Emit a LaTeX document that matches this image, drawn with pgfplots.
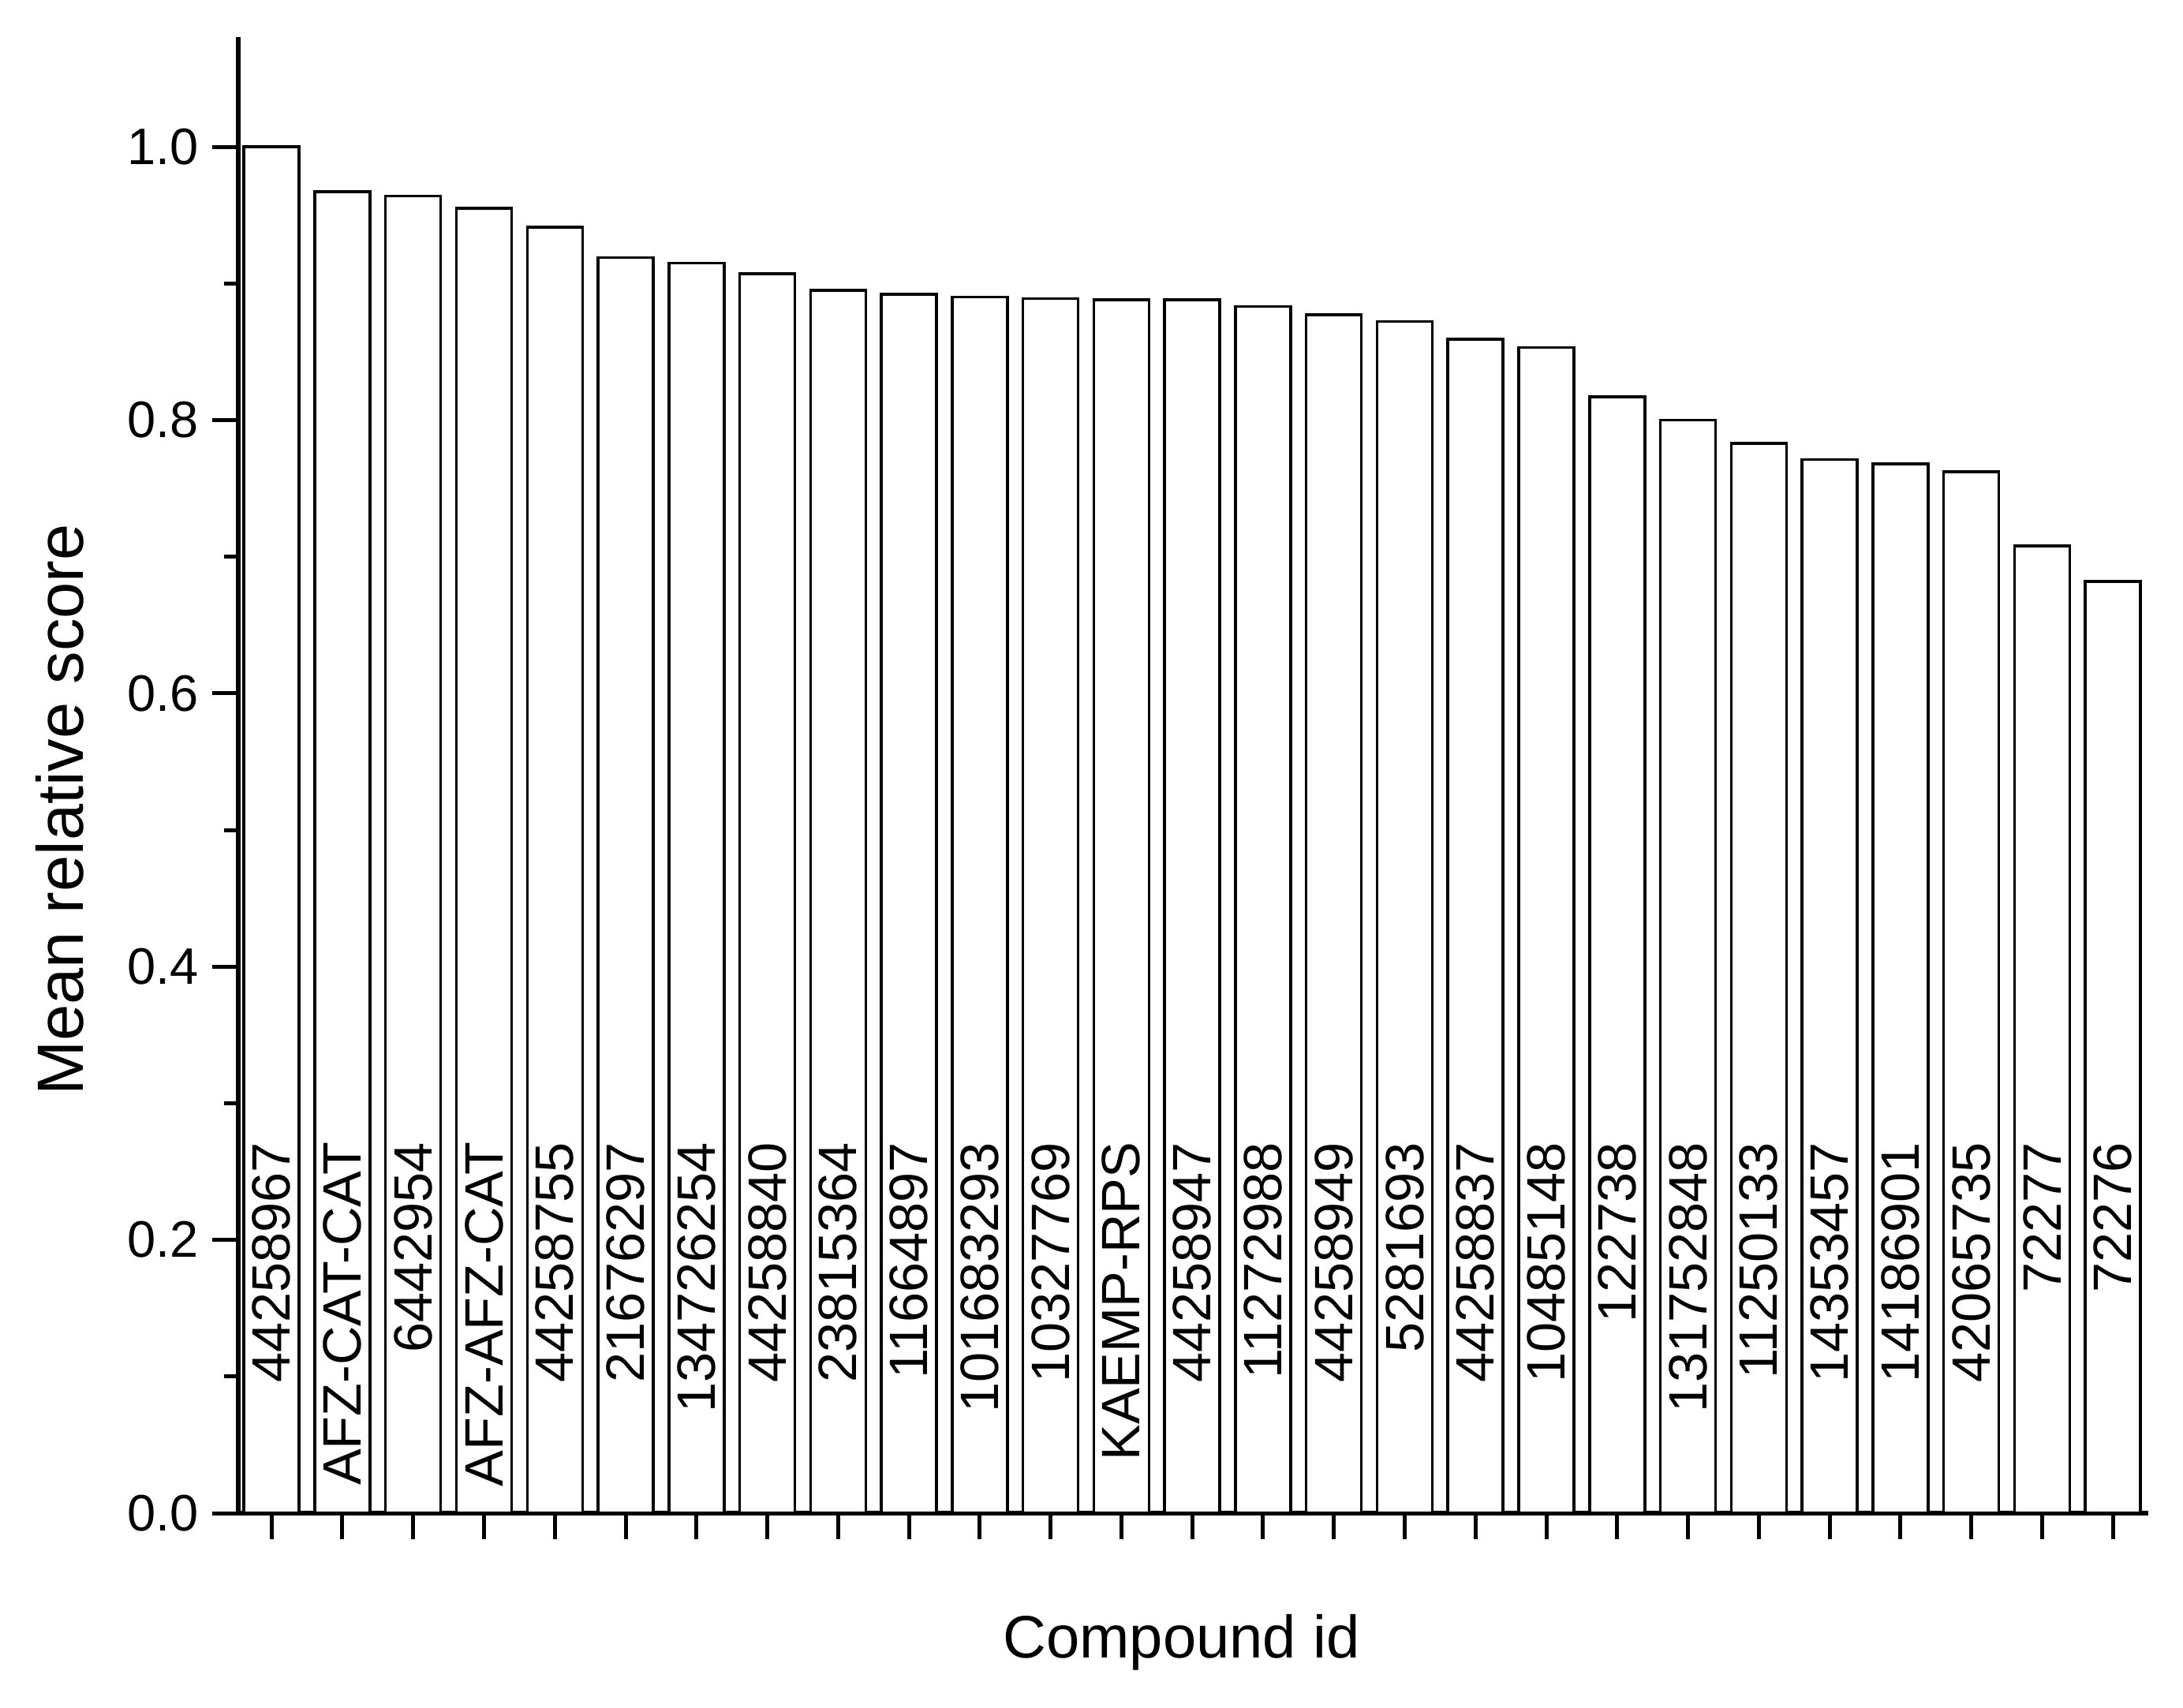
\documentclass[border=0pt]{standalone}
\usepackage{fontspec}
\setmainfont{Liberation Sans}
\usepackage{pgfplots}
\usepackage{pgfplotstable}
\pgfplotsset{compat=1.18}

% position, score, where the id label ends, id
\pgfplotstableread{
x  y      ly     id
0  1.000  0.272  44258967
1  0.967  0.272  AFZ-CAT-CAT
2  0.964  0.272  6442954
3  0.955  0.272  AFZ-AFZ-CAT
4  0.941  0.272  44258755
5  0.919  0.272  21676297
6  0.915  0.272  134726254
7  0.907  0.272  44258840
8  0.895  0.272  23815364
9  0.892  0.272  11664897
10 0.890  0.272  101683293
11 0.889  0.272  10327769
12 0.888  0.272  KAEMP-RPS
13 0.888  0.272  44258947
14 0.883  0.272  11272988
15 0.877  0.272  44258949
16 0.872  0.272  5281693
17 0.859  0.272  44258837
18 0.853  0.272  10485148
19 0.817  0.272  122738
20 0.800  0.272  131752848
21 0.783  0.272  11250133
22 0.771  0.272  14353457
23 0.768  0.272  14186901
24 0.762  0.272  42065735
25 0.708  0.272  72277
26 0.682  0.272  72276
}\scores

\begin{document}
\begin{tikzpicture}
\useasboundingbox (-60.4pt,-49.4pt) rectangle (493.0pt,383.6pt);
\begin{axis}[
  scale only axis, width=484.2pt, height=374.1pt,
  xmin=-0.47, xmax=26.5, ymin=0, ymax=1.08,
  axis lines=left, axis line style={-, line width=1.1pt},
  tick align=outside,
  major tick length=6.5pt, minor tick length=3.5pt,
  every tick/.style={black, line width=1pt},
  xtick={0,1,...,26}, xticklabels={},
  ytick={0,0.2,0.4,0.6,0.8,1.0}, minor y tick num=1,
  yticklabel style={/pgf/number format/fixed, /pgf/number format/fixed zerofill,
    /pgf/number format/precision=1, font=\fontsize{13}{15}\selectfont},
  /pgf/number format/assume math mode=true,
  xlabel={Compound id}, ylabel={Mean relative score},
  xlabel style={at={(axis description cs:0.4938,-0.0874)}, anchor=center,
    font=\fontsize{15.2}{18}\selectfont},
  ylabel style={at={(axis description cs:-0.0934,0.4766)}, anchor=center,
    font=\fontsize{16.6}{19}\selectfont},
  clip=false,
]
\addplot[ybar, bar width=0.78, draw=black, fill=white, line width=0.7pt]
  table[x=x, y=y] {\scores};
\addplot[draw=none, mark=none, nodes near coords, point meta=explicit symbolic,
  nodes near coords style={rotate=90, anchor=east, inner sep=0pt,
    font=\fontsize{13.7}{16}\selectfont}]
  table[x=x, y=ly, meta=id] {\scores};
\end{axis}
\end{tikzpicture}
\end{document}
